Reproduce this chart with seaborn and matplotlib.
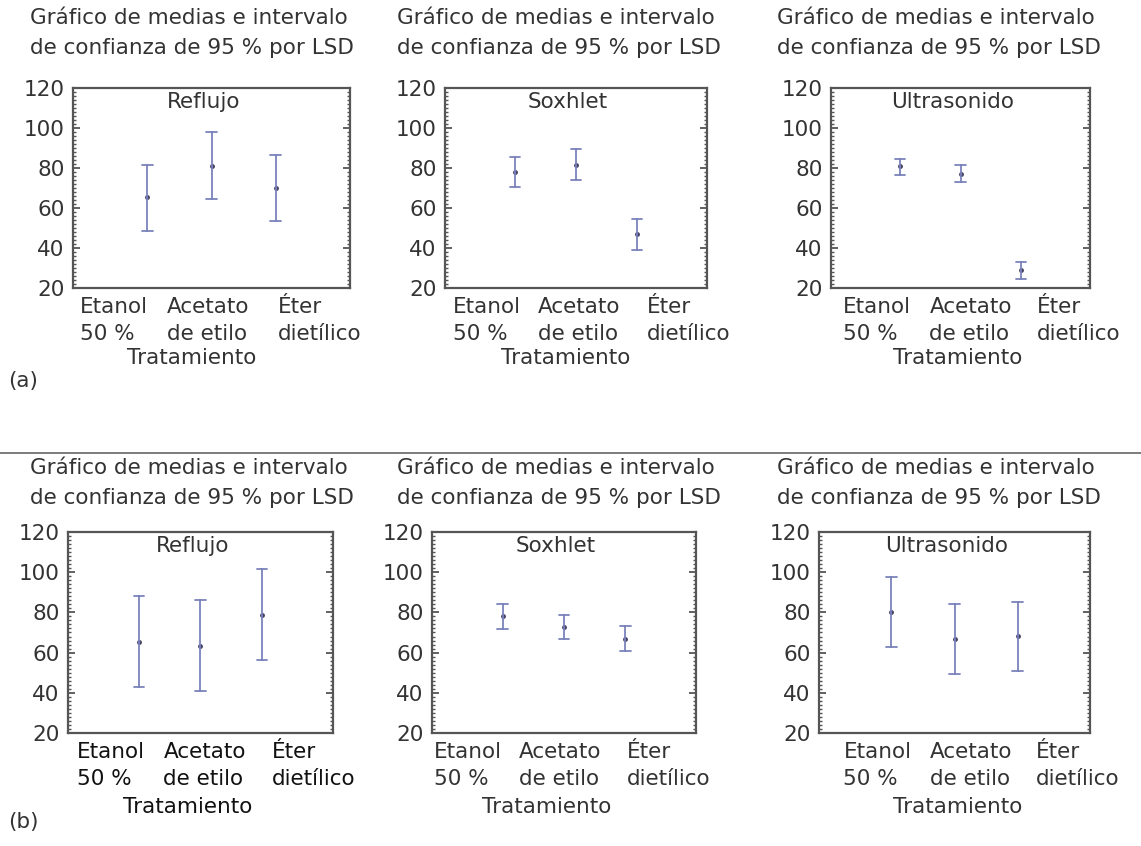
import numpy as np
import pandas as pd
import seaborn as sns
import matplotlib
import matplotlib.pyplot as plt
from matplotlib.lines import Line2D
from matplotlib.ticker import AutoMinorLocator

# data (LSD 95 % intervals)
tratamientos = ["Etanol 50 %", "Acetato de etilo", "Éter dietílico"]
tick_labels = ["Etanol\n50 %", "Acetato\nde etilo", "Éter\ndietílico"]
metodos = ["Reflujo", "Soxhlet", "Ultrasonido"]

# row (a)
a_reflujo_mean = [65.3, 80.8, 70.0]
a_reflujo_low = [48.7, 64.7, 53.7]
a_reflujo_high = [81.7, 97.8, 86.7]
a_soxhlet_mean = [78.2, 81.3, 46.8]
a_soxhlet_low = [70.4, 73.8, 38.8]
a_soxhlet_high = [85.5, 89.4, 54.5]
a_ultra_mean = [80.8, 77.2, 28.8]
a_ultra_low = [76.7, 72.8, 24.7]
a_ultra_high = [84.7, 81.5, 32.8]

# row (b)
b_reflujo_mean = [65.2, 63.4, 78.6]
b_reflujo_low = [42.8, 40.7, 56.2]
b_reflujo_high = [88.1, 86.0, 101.4]
b_soxhlet_mean = [78.0, 72.6, 66.9]
b_soxhlet_low = [71.7, 66.6, 60.6]
b_soxhlet_high = [84.0, 78.9, 73.1]
b_ultra_mean = [80.0, 66.7, 68.1]
b_ultra_low = [62.8, 49.6, 50.9]
b_ultra_high = [97.7, 84.3, 85.3]

title_txt = "Gráfico de medias e intervalo\nde confianza de 95 % por LSD"

sns.set_theme(style="white")
plt.rcParams['font.family'] = ['DejaVu Sans']
txt_color = "#333333"
bar_color = "#7b82bb"
fs = 15.5

W, H = 1141, 846
fig = plt.figure(figsize=(W / 100, H / 100), dpi=100)


def px_axes(x0, x1, y0, y1):
    return fig.add_axes([x0 / W, 1 - y1 / H, (x1 - x0) / W, (y1 - y0) / H])


def long_df(low, mean, high):
    rows = []
    for t, lo, m, hi in zip(tratamientos, low, mean, high):
        for v in (lo, m, hi):
            rows.append({"Tratamiento": t, "valor": v})
    return pd.DataFrame(rows)


panels = [
    # (axes px box, data, name, label x fracs, Tratamiento x frac, dark labels)
    ((73, 350, 88, 288), (a_reflujo_low, a_reflujo_mean, a_reflujo_high), "Reflujo", [0.025, 0.34, 0.74], 0.43, False),
    ((445, 707, 88, 288), (a_soxhlet_low, a_soxhlet_mean, a_soxhlet_high), "Soxhlet", [0.03, 0.355, 0.77], 0.46, False),
    ((831, 1090, 88, 288), (a_ultra_low, a_ultra_mean, a_ultra_high), "Ultrasonido", [0.046, 0.38, 0.795], 0.49, False),
    ((68, 333, 532, 733), (b_reflujo_low, b_reflujo_mean, b_reflujo_high), "Reflujo", [0.034, 0.36, 0.77], 0.45, True),
    ((432, 696, 532, 733), (b_soxhlet_low, b_soxhlet_mean, b_soxhlet_high), "Soxhlet", [0.008, 0.33, 0.74], 0.435, False),
    ((819, 1090, 532, 733), (b_ultra_low, b_ultra_mean, b_ultra_high), "Ultrasonido", [0.09, 0.41, 0.80], 0.51, False),
]

for box, (lo, m, hi), name, lab_x, trat_x, dark in panels:
    ax = px_axes(*box)
    df = long_df(lo, m, hi)
    sns.pointplot(
        data=df, x="Tratamiento", y="valor",
        estimator="median", errorbar=lambda v: (v.min(), v.max()),
        linestyle="none", color=bar_color, markersize=1.5,
        capsize=0.17, err_kws={"linewidth": 1.3}, ax=ax,
    )
    for ln in ax.lines:
        if ln.get_marker() not in (None, "None", ""):
            ln.set_markerfacecolor("#444466")
            ln.set_markeredgecolor("#444466")
    ax.set_xlim(-1.15, 3.15)
    ax.set_ylim(20, 120)
    ax.set_yticks([20, 40, 60, 80, 100, 120])
    ax.yaxis.set_minor_locator(AutoMinorLocator(10))
    ax.set_xticks([])
    ax.set_xlabel("")
    ax.set_ylabel("")
    ax.tick_params(axis="y", which="both", direction="in", left=True, right=True,
                   labelsize=fs, labelcolor=txt_color, color="#555555", pad=6)
    ax.tick_params(axis="y", which="major", length=5, width=1.3)
    ax.tick_params(axis="y", which="minor", length=2.5, width=1.0)
    for sp in ax.spines.values():
        sp.set_color("#555555")
        sp.set_linewidth(1.6)
    ax.text(0.47, 0.93, name, transform=ax.transAxes, ha="center", va="center",
            fontsize=fs, color=txt_color)
    lc = "#111111" if dark else txt_color
    for xf, lab in zip(lab_x, tick_labels):
        ax.annotate(lab, xy=(xf, 0), xycoords="axes fraction",
                    xytext=(0, -9), textcoords="offset pixels",
                    ha="left", va="top", fontsize=fs, color=lc, linespacing=1.45)
    ax.annotate("Tratamiento", xy=(trat_x, 0), xycoords="axes fraction",
                xytext=(0, -60 if box[2] < 400 else -64), textcoords="offset pixels",
                ha="center", va="top", fontsize=fs, color=lc)

# panel titles
for y_top in (8, 458):
    for x_left in (30, 397, 777):
        fig.text(x_left / W, 1 - y_top / H, title_txt, ha="left", va="top",
                 fontsize=fs, color=txt_color, linespacing=1.6)

fig.text(8 / W, 1 - 381 / H, "(a)", ha="left", va="center", fontsize=fs, color=txt_color)
fig.text(8 / W, 1 - 822 / H, "(b)", ha="left", va="center", fontsize=fs, color=txt_color)

fig.add_artist(Line2D([0, 1], [1 - 453 / H, 1 - 453 / H], transform=fig.transFigure,
                      color="#666666", linewidth=1.2))

fig.savefig("out.png", dpi=100)
